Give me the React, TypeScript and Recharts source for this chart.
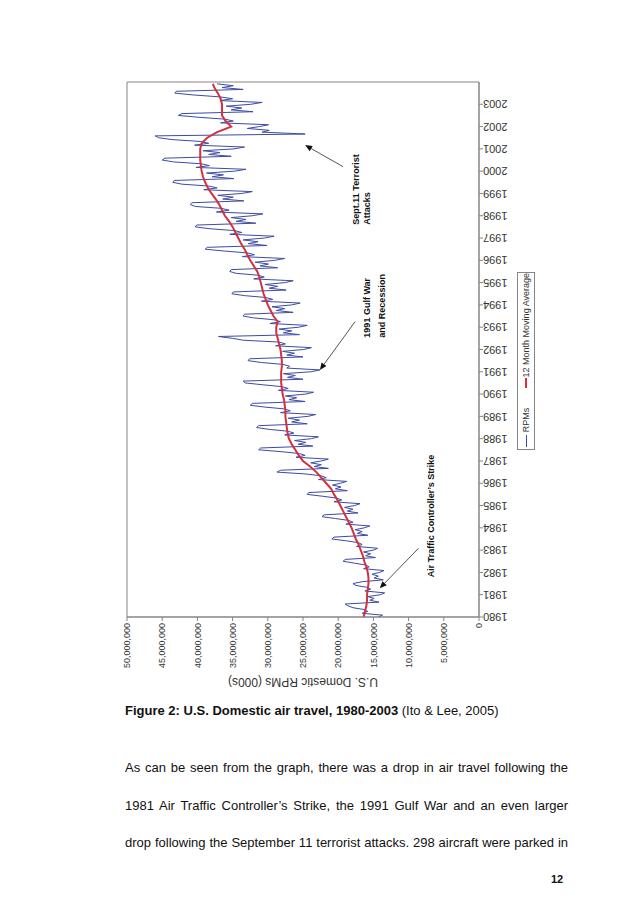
import React from 'react';
import { LineChart, Line, XAxis, YAxis, ReferenceArea, ReferenceLine, Label } from 'recharts';

// U.S. domestic RPMs, monthly, in millions of (000s)
const years = [
  1980, 1981, 1982, 1983, 1984, 1985, 1986, 1987, 1988, 1989, 1990, 1991,
  1992, 1993, 1994, 1995, 1996, 1997, 1998, 1999, 2000, 2001, 2002, 2003,
];

const rpm1980s = [
  14.3, 13.7, 16.6, 15.8, 16.3, 17.9, 18.6, 19.0, 14.2, 15.5, 14.9, 15.8,
  14.0, 13.4, 16.2, 15.4, 15.9, 17.5, 17.9, 16.6, 13.6, 14.9, 14.3, 15.2,
  14.1, 13.5, 16.4, 15.6, 16.1, 17.7, 19.3, 19.0, 14.7, 16.1, 15.4, 16.4,
  15.0, 14.4, 17.4, 16.6, 17.1, 18.8, 20.9, 20.6, 15.8, 17.3, 16.6, 17.6,
  16.3, 15.5, 18.9, 17.9, 18.5, 20.4, 22.3, 22.0, 17.2, 18.7, 17.9, 19.1,
  17.7, 16.9, 20.6, 19.5, 20.2, 22.2, 24.4, 24.2, 18.7, 20.4, 19.6, 20.8,
  19.7, 18.8, 22.8, 21.7, 22.4, 24.6, 28.7, 28.2, 21.4, 23.4, 22.4, 23.9,
  22.4, 21.4, 26.0, 24.7, 25.5, 28.1, 31.3, 31.0, 23.6, 25.7, 24.6, 26.2,
  23.8, 22.8, 27.6, 26.3, 27.1, 29.8, 31.6, 31.3, 24.4, 26.6, 25.5, 27.1,
  24.3, 23.2, 28.2, 26.8, 27.6, 30.4, 32.5, 32.2, 24.7, 27.0, 25.9, 27.5,
];

const rpm1990s = [
  24.6, 23.5, 28.5, 27.1, 28.0, 30.7, 33.2, 33.5, 25.0, 27.2, 26.1, 27.8,
  23.9, 22.6, 27.3, 26.9, 27.9, 30.9, 32.8, 32.6, 25.0, 27.3, 26.2, 27.9,
  24.9, 23.8, 28.9, 27.5, 28.4, 33.5, 35.0, 37.0, 25.5, 27.8, 26.6, 28.4,
  25.6, 24.4, 29.7, 28.2, 29.1, 32.0, 33.5, 33.3, 26.4, 28.8, 27.6, 29.4,
  26.6, 25.4, 30.9, 29.3, 30.3, 33.3, 35.1, 34.9, 27.4, 29.8, 28.6, 30.4,
  27.6, 26.4, 32.0, 30.5, 31.4, 34.5, 35.4, 35.2, 28.6, 31.1, 29.9, 31.8,
  29.0, 27.6, 33.6, 31.9, 32.9, 36.2, 38.9, 38.6, 30.1, 32.8, 31.4, 33.5,
  30.5, 29.1, 35.4, 33.7, 34.7, 38.2, 40.3, 40.1, 31.7, 34.5, 33.1, 35.2,
  32.2, 30.7, 37.3, 35.5, 36.6, 40.3, 41.0, 40.8, 33.4, 36.4, 34.9, 37.1,
  33.7, 32.2, 39.1, 37.2, 38.4, 42.2, 43.5, 43.3, 34.8, 37.9, 36.3, 38.7,
];

const rpm2000s = [
  34.7, 33.1, 40.2, 38.3, 39.5, 43.4, 45.0, 44.6, 35.2, 38.4, 36.8, 39.2,
  34.8, 33.3, 40.4, 38.4, 39.6, 43.6, 45.5, 46.0, 24.7, 30.8, 29.8, 32.9,
  31.2, 29.9, 36.7, 34.9, 36.1, 39.8, 42.7, 42.2, 32.1, 35.2, 33.7, 35.9,
  32.4, 30.8, 36.8, 35.0, 36.8, 40.5, 43.2, 43.0, 33.5, 36.5, 34.9, 37.2,
];

// 12 month moving average, read at Jan/Apr/Jul/Oct, last one is Dec 2003
const maQuarterly = [
  16.4, 16.2, 16.0, 15.9, 15.9, 15.8, 15.7, 15.7, 15.8, 16.0, 16.3, 16.5,
  16.8, 17.1, 17.5, 17.8, 18.1, 18.5, 18.9, 19.3, 19.7, 20.1, 20.6, 21.0,
  21.7, 22.4, 23.1, 24.0, 25.0, 25.6, 26.1, 26.6, 27.0, 27.2, 27.3, 27.4,
  27.5, 27.5, 27.6, 27.7, 27.9, 28.0, 28.1, 28.1, 28.1, 28.0, 28.0, 28.1,
  28.2, 28.4, 28.6, 28.8, 28.8, 28.6, 29.2, 29.6, 30.0, 30.3, 30.6, 30.8,
  31.0, 31.2, 31.5, 32.0, 32.5, 32.9, 33.3, 33.8, 34.2, 34.6, 35.0, 35.5,
  36.1, 36.5, 36.9, 37.4, 38.0, 38.5, 38.9, 39.2, 39.4, 39.5, 39.6, 39.6,
  39.6, 39.4, 38.6, 37.2, 35.2, 36.0, 36.5, 36.5, 36.5, 36.7, 37.1, 37.6,
  37.8,
];

const valueTicks = [0, 5, 10, 15, 20, 25, 30, 35, 40, 45, 50];
const valueTickLabels = [
  '0', '5,000,000', '10,000,000', '15,000,000', '20,000,000', '25,000,000',
  '30,000,000', '35,000,000', '40,000,000', '45,000,000', '50,000,000',
];

const RPM_COLOR = '#3d4ba3';
const MA_COLOR = '#d2313d';
const AXIS_COLOR = '#858585';

const rpm = [...rpm1980s, ...rpm1990s, ...rpm2000s];
const table = rpm.map((v, i) => ({
  t: years[Math.floor(i / 12)] + (i % 12) / 12,
  rpm: v,
  ma: i % 3 === 0 ? maQuarterly[i / 3] : i === rpm.length - 1 ? maQuarterly[maQuarterly.length - 1] : null,
}));

// annotation arrows (tail -> head) in data units, text offset from the tail in px
const notes = [
  { tail: { x: 2000.2, y: 19.3 }, head: { x: 2001.17, y: 24.7 }, dx: -58, dy: 16, gap: 11, lines: ['Sept.11 Terrorist', 'Attacks'] },
  { tail: { x: 1993.25, y: 17.6 }, head: { x: 1991.08, y: 22.6 }, dx: -16, dy: 15, gap: 15, lines: ['1991 Gulf War', 'and Recession'] },
  { tail: { x: 1983.08, y: 8.6 }, head: { x: 1981.29, y: 14.1 }, dx: -29, dy: 16, gap: 11, lines: ['Air Traffic Controller\u2019s Strike'] },
];

const YearTick = ({ x, y, payload }: any) => (
  <text x={x} y={y} transform={`rotate(-90, ${x}, ${y})`} textAnchor="end" dy="0.35em" fontSize={11} fill="#333">
    {payload.value}
  </text>
);

const renderAxisTitle = ({ viewBox }: any) => {
  const cx = viewBox.x + 22;
  const cy = viewBox.y + viewBox.height / 2;
  return (
    <text x={cx} y={cy} transform={`rotate(-90, ${cx}, ${cy})`} textAnchor="middle" fontSize={12} fill="#333">
      U.S. Domestic RPMs (000s)
    </text>
  );
};

const NoteArrow = ({ x1, y1, x2, y2, note }: any) => {
  if (x1 == null || x2 == null) return null;
  const dx = x2 - x1;
  const dy = y2 - y1;
  const len = Math.hypot(dx, dy) || 1;
  const ux = dx / len;
  const uy = dy / len;
  const hl = 7;
  const hw = 3;
  const bx = x2 - ux * hl;
  const by = y2 - uy * hl;
  const pts = `${x2},${y2} ${bx - uy * hw},${by + ux * hw} ${bx + uy * hw},${by - ux * hw}`;
  const tx = x1 + note.dx;
  return (
    <g>
      <line x1={x1} y1={y1} x2={bx} y2={by} stroke="#555" strokeWidth={1} />
      <polygon points={pts} fill="#111" />
      <text x={tx} y={y1 + note.dy} fontSize={9} fontWeight="bold" fill="#111">
        {note.lines.map((s: string, i: number) => (
          <tspan key={i} x={tx} dy={i === 0 ? 0 : note.gap}>{s}</tspan>
        ))}
      </text>
    </g>
  );
};

const TravelChart = () => (
  <div style={{ position: 'absolute', left: 15, top: 155, width: 630, height: 460, transform: 'rotate(-90deg)', transformOrigin: 'center' }}>
    <LineChart width={630} height={460} data={table} margin={{ top: 27, right: 12, bottom: 0, left: 0 }}>
      <ReferenceArea x1={1980} x2={2004} y1={0} y2={50} fill="none" stroke={AXIS_COLOR} ifOverflow="visible" />
      <XAxis
        dataKey="t"
        type="number"
        domain={[1980, 2004]}
        ticks={years}
        interval={0}
        height={81}
        tickSize={4}
        tickMargin={0}
        tick={<YearTick />}
        stroke={AXIS_COLOR}
        allowDataOverflow
      />
      <YAxis
        type="number"
        domain={[0, 50]}
        ticks={valueTicks}
        interval={0}
        width={83}
        tickSize={4}
        tickMargin={2}
        tickFormatter={(v: number, i: number) => valueTickLabels[i]}
        tick={{ fontSize: 9, fill: '#333' }}
        stroke={AXIS_COLOR}
      >
        <Label content={renderAxisTitle} />
      </YAxis>
      <Line dataKey="rpm" stroke={RPM_COLOR} strokeWidth={1} dot={false} isAnimationActive={false} />
      <Line dataKey="ma" stroke={MA_COLOR} strokeWidth={2} dot={false} connectNulls isAnimationActive={false} />
      {notes.map((n, i) => (
        <ReferenceLine
          key={i}
          segment={[n.tail, n.head]}
          ifOverflow="visible"
          shape={(p: any) => <NoteArrow {...p} note={n} />}
        />
      ))}
    </LineChart>
    <div style={{ position: 'absolute', left: 250, top: 417, width: 178, height: 18, boxSizing: 'border-box', border: `1px solid ${AXIS_COLOR}`, display: 'flex', alignItems: 'center', fontSize: 9, color: '#333', whiteSpace: 'nowrap' }}>
      <span style={{ display: 'inline-block', width: 14, height: 1, background: RPM_COLOR, marginLeft: 2 }} />
      <span style={{ marginLeft: 3 }}>RPMs</span>
      <span style={{ display: 'inline-block', width: 11, height: 2, background: MA_COLOR, marginLeft: 20 }} />
      <span style={{ marginLeft: 1 }}>12 Month Moving Average</span>
    </div>
  </div>
);

const lineStyle: React.CSSProperties = {
  position: 'absolute',
  left: 125,
  width: 443,
  fontSize: 13,
  lineHeight: '16px',
  textAlign: 'justify',
  textAlignLast: 'justify',
  whiteSpace: 'nowrap',
  color: '#111',
};

const paragraph = [
  'As can be seen from the graph, there was a drop in air travel following the',
  '1981 Air Traffic Controller\u2019s Strike, the 1991 Gulf War and an even larger',
  'drop following the September 11 terrorist attacks. 298 aircraft were parked in',
];

export default function App() {
  return (
    <div style={{ position: 'absolute', left: 0, top: 0, width: 638, height: 903, background: '#fff', overflow: 'hidden', fontFamily: '"Liberation Sans", Arial, sans-serif' }}>
      <TravelChart />
      <div style={{ ...lineStyle, top: 703, textAlign: 'left', textAlignLast: 'auto', width: 'auto' }}>
        <b>Figure 2: U.S. Domestic air travel, 1980-2003</b> (Ito &amp; Lee, 2005)
      </div>
      {paragraph.map((s, i) => (
        <div key={i} style={{ ...lineStyle, top: 760 + i * 37.5 }}>{s}</div>
      ))}
      <div style={{ position: 'absolute', left: 551, top: 873, fontSize: 11, fontWeight: 'bold', color: '#111' }}>12</div>
    </div>
  );
}
